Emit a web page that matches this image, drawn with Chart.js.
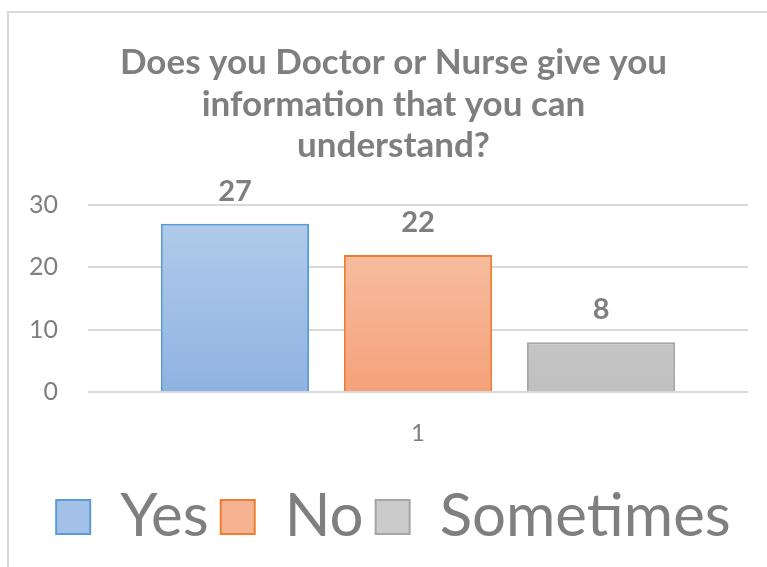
<!DOCTYPE html>
<html>
<head>
<meta charset="utf-8">
<script src="https://cdn.jsdelivr.net/npm/chart.js@4"></script>
<style>
  html, body { margin: 0; padding: 0; background: #fff; }
  #frame {
    position: absolute; left: 7px; top: 11px; width: 780px; height: 600px;
    border-left: 2px solid #d9d9d9; border-top: 2px solid #d9d9d9;
  }
  #wrap { position: absolute; left: 0; top: 0; width: 767px; height: 567px; }
</style>
</head>
<body>
<div id="frame"></div>
<div id="wrap"><canvas id="chart"></canvas></div>
<script>
const categories = ['1'];
const seriesNames = ['Yes', 'No', 'Sometimes'];
const yesValues = [27];
const noValues = [22];
const sometimesValues = [8];
const titleLines = ['Does you Doctor or Nurse give you', 'information that you can', 'understand?'];

const textGray = '#7f7f7f';
const fontFamily = 'Lato, "Open Sans", sans-serif';

const seriesStyle = [
  { top: '#b4cdea', bottom: '#8fb3e2', border: '#5b9bd5', legend: '#a3c1e6' },
  { top: '#f8c6ad', bottom: '#f4a279', border: '#ed7d31', legend: '#f6b391' },
  { top: '#d6d6d6', bottom: '#bfbfbf', border: '#a5a5a5', legend: '#cbcbcb' }
];

const gradientFor = (style) => (context) => {
  const { chart } = context;
  const { ctx, chartArea } = chart;
  if (!chartArea) return style.bottom;
  const gradient = ctx.createLinearGradient(0, chartArea.top, 0, chartArea.bottom);
  gradient.addColorStop(0, style.top);
  gradient.addColorStop(1, style.bottom);
  return gradient;
};

const buildDataset = (label, data, style) => ({
  label,
  data,
  backgroundColor: gradientFor(style),
  borderColor: style.border,
  borderWidth: 2,
  borderSkipped: 'bottom',
  categoryPercentage: 0.832,
  barPercentage: 0.81
});

// simple value labels drawn above each bar
const valueLabelPlugin = {
  id: 'valueLabels',
  afterDatasetsDraw(chart) {
    const { ctx } = chart;
    ctx.save();
    ctx.fillStyle = textGray;
    ctx.font = `bold 29px ${fontFamily}`;
    ctx.textAlign = 'center';
    ctx.textBaseline = 'bottom';
    chart.data.datasets.forEach((dataset, i) => {
      chart.getDatasetMeta(i).data.forEach((bar, j) => {
        ctx.fillText(String(dataset.data[j]), bar.x, bar.y - 18);
      });
    });
    ctx.restore();
  }
};

new Chart(document.getElementById('chart'), {
  type: 'bar',
  plugins: [valueLabelPlugin],
  data: {
    labels: categories,
    datasets: [
      buildDataset(seriesNames[0], yesValues, seriesStyle[0]),
      buildDataset(seriesNames[1], noValues, seriesStyle[1]),
      buildDataset(seriesNames[2], sometimesValues, seriesStyle[2])
    ]
  },
  options: {
    responsive: true,
    maintainAspectRatio: false,
    animation: false,
    layout: { padding: { top: 42, right: 0, bottom: 10, left: 20 } },
    plugins: {
      title: {
        display: true,
        text: titleLines,
        color: textGray,
        font: { family: fontFamily, size: 35, weight: 'bold', lineHeight: 1.19 },
        padding: { top: 0, bottom: 38 }
      },
      legend: {
        position: 'bottom',
        labels: {
          color: textGray,
          font: { family: fontFamily, size: 60 },
          boxWidth: 34,
          boxHeight: 34,
          padding: 12,
          generateLabels(chart) {
            return chart.data.datasets.map((dataset, i) => ({
              text: dataset.label,
              fillStyle: seriesStyle[i].legend,
              strokeStyle: seriesStyle[i].border,
              lineWidth: 2,
              fontColor: textGray,
              datasetIndex: i
            }));
          }
        }
      },
      tooltip: { enabled: false }
    },
    scales: {
      x: {
        grid: { display: false, drawTicks: false },
        border: { display: false },
        ticks: { color: textGray, font: { family: fontFamily, size: 24 }, padding: 27 }
      },
      y: {
        min: 0,
        max: 30,
        ticks: { stepSize: 10, color: textGray, font: { family: fontFamily, size: 25 }, padding: 30 },
        grid: { color: '#d9d9d9', lineWidth: 2, drawTicks: false },
        border: { display: false },
        afterFit(scale) { scale.width = 68; }
      },
      // empty right-hand margin axis so the plot ends where the reference does
      yRight: {
        position: 'right',
        grid: { display: false, drawTicks: false },
        border: { display: false },
        ticks: { display: false },
        afterFit(scale) { scale.width = 19; }
      }
    }
  }
});
</script>
</body>
</html>
